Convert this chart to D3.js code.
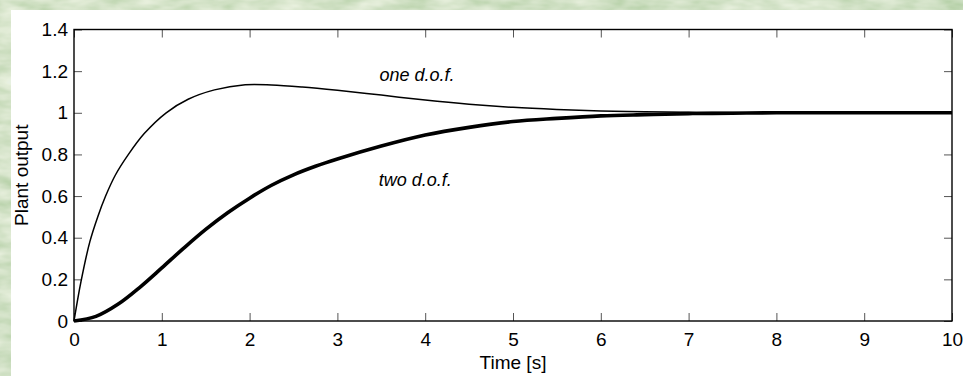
<!DOCTYPE html>
<html>
<head>
<meta charset="utf-8">
<script src="https://cdn.jsdelivr.net/npm/d3@7"></script>
<style>
  html, body { margin: 0; padding: 0; background: #bcd4ad; }
  svg { display: block; }
</style>
</head>
<body>
<svg id="chart" width="963" height="376"></svg>
<script>
// ---- data ----
const xTicks = [0, 1, 2, 3, 4, 5, 6, 7, 8, 9, 10];
const yTicks = [0, 0.2, 0.4, 0.6, 0.8, 1, 1.2, 1.4];
const yTickLabels = ["0", "0.2", "0.4", "0.6", "0.8", "1", "1.2", "1.4"];

const oneDofTime  = [0, 0.08, 0.18, 0.27, 0.36, 0.47, 0.62, 0.8, 1.05, 1.3, 1.6, 1.95, 2.25, 2.6, 3, 3.5, 4, 4.5, 5, 5.5, 6, 6.5, 7, 7.5, 8, 9, 10];
const oneDofValue = [0, 0.19, 0.38, 0.5, 0.6, 0.7, 0.8, 0.9, 1.0, 1.065, 1.11, 1.135, 1.134, 1.124, 1.108, 1.085, 1.061, 1.041, 1.026, 1.016, 1.009, 1.005, 1.002, 1.001, 1.0, 1.0, 1.0];

const twoDofTime  = [0, 0.25, 0.5, 0.75, 1.0, 1.25, 1.5, 1.75, 2.0, 2.25, 2.5, 2.75, 3, 3.5, 4, 4.5, 5, 5.5, 6, 6.5, 7, 7.5, 8, 9, 10];
const twoDofValue = [0, 0.022, 0.08, 0.162, 0.255, 0.35, 0.44, 0.52, 0.59, 0.652, 0.702, 0.743, 0.778, 0.84, 0.893, 0.93, 0.958, 0.973, 0.985, 0.991, 0.996, 0.998, 1.0, 1.0, 1.0];

const seriesLabels = ["one d.o.f.", "two d.o.f."];
const labelAnchors = [[3.48, 1.155], [3.47, 0.65]];
const xLabel = "Time [s]";
const yLabel = "Plant output";

// ---- layout ----
const svg = d3.select("#chart");
const W = 963, H = 376;
const plot = { left: 74, right: 952, top: 29.5, bottom: 321 };
const FONT = "Liberation Sans, Arial, Helvetica, sans-serif";
const FS = 19;

// background texture
const defs = svg.append("defs");
const grad = defs.append("linearGradient").attr("id", "bg").attr("x1", 0).attr("y1", 0).attr("x2", 1).attr("y2", 1);
grad.append("stop").attr("offset", "0%").attr("stop-color", "#c6dcb8");
grad.append("stop").attr("offset", "50%").attr("stop-color", "#bcd6b0");
grad.append("stop").attr("offset", "100%").attr("stop-color", "#a9cdb8");
const filt = defs.append("filter").attr("id", "tex").attr("x", 0).attr("y", 0).attr("width", "100%").attr("height", "100%");
filt.append("feTurbulence").attr("type", "fractalNoise").attr("baseFrequency", "0.03 0.08").attr("numOctaves", 3).attr("seed", 3).attr("result", "n");
filt.append("feColorMatrix").attr("in", "n").attr("type", "matrix")
  .attr("values", "0.9 0 0 0 0.3   0.6 0 0 0 0.52   0.9 0 0 0 0.22   0 0 0 0 1");
svg.append("rect").attr("width", W).attr("height", H).attr("fill", "url(#bg)");
svg.append("rect").attr("width", W).attr("height", H).attr("filter", "url(#tex)").attr("opacity", 0.6);

// white panel
svg.append("rect").attr("x", 11).attr("y", 10).attr("width", W - 11).attr("height", H - 10).attr("fill", "#ffffff");

// scales
const x = d3.scaleLinear().domain([0, 10]).range([plot.left, plot.right]);
const y = d3.scaleLinear().domain([0, 1.4]).range([plot.bottom, plot.top]);

const tickLen = 8;
function styleAxis(g) {
  g.select(".domain").remove();
  g.selectAll(".tick line").attr("stroke", "#555").attr("stroke-width", 1);
  g.selectAll(".tick text").attr("fill", "#000").attr("font-family", FONT).attr("font-size", FS);
}

// bottom axis with labels
svg.append("g").attr("transform", `translate(0,${plot.bottom})`)
  .call(d3.axisBottom(x).tickValues(xTicks).tickSize(-tickLen).tickPadding(12).tickFormat(d3.format("d")))
  .call(styleAxis);
// top axis ticks only
svg.append("g").attr("transform", `translate(0,${plot.top})`)
  .call(d3.axisTop(x).tickValues(xTicks).tickSize(-tickLen).tickFormat(""))
  .call(styleAxis);
// left axis with labels
svg.append("g").attr("transform", `translate(${plot.left},0)`)
  .call(d3.axisLeft(y).tickValues(yTicks).tickSize(-tickLen).tickPadding(6).tickFormat((d, i) => yTickLabels[i]))
  .call(styleAxis);
// right axis ticks only
svg.append("g").attr("transform", `translate(${plot.right},0)`)
  .call(d3.axisRight(y).tickValues(yTicks).tickSize(-tickLen).tickFormat(""))
  .call(styleAxis);

// box
svg.append("rect").attr("x", plot.left).attr("y", plot.top)
  .attr("width", plot.right - plot.left).attr("height", plot.bottom - plot.top)
  .attr("fill", "none").attr("stroke", "#000").attr("stroke-width", 1.4);

// lines
const line = d3.line().x(d => x(d[0])).y(d => y(d[1])).curve(d3.curveCatmullRom.alpha(0.5));
const oneDof = oneDofTime.map((t, i) => [t, oneDofValue[i]]);
const twoDof = twoDofTime.map((t, i) => [t, twoDofValue[i]]);

svg.append("path").datum(oneDof).attr("d", line)
  .attr("fill", "none").attr("stroke", "#000").attr("stroke-width", 1.5);
svg.append("path").datum(twoDof).attr("d", line)
  .attr("fill", "none").attr("stroke", "#000").attr("stroke-width", 3.6);

// series labels
seriesLabels.forEach((s, i) => {
  svg.append("text").attr("x", x(labelAnchors[i][0])).attr("y", y(labelAnchors[i][1]))
    .attr("font-family", FONT).attr("font-size", FS - 1).attr("font-style", "italic")
    .attr("fill", "#000").text(s);
});

// axis titles
svg.append("text").attr("x", (plot.left + plot.right) / 2).attr("y", 369)
  .attr("text-anchor", "middle").attr("font-family", FONT).attr("font-size", FS).text(xLabel);
svg.append("text")
  .attr("transform", `translate(28,${(plot.top + plot.bottom) / 2}) rotate(-90)`)
  .attr("text-anchor", "middle").attr("font-family", FONT).attr("font-size", FS).text(yLabel);
</script>
</body>
</html>
